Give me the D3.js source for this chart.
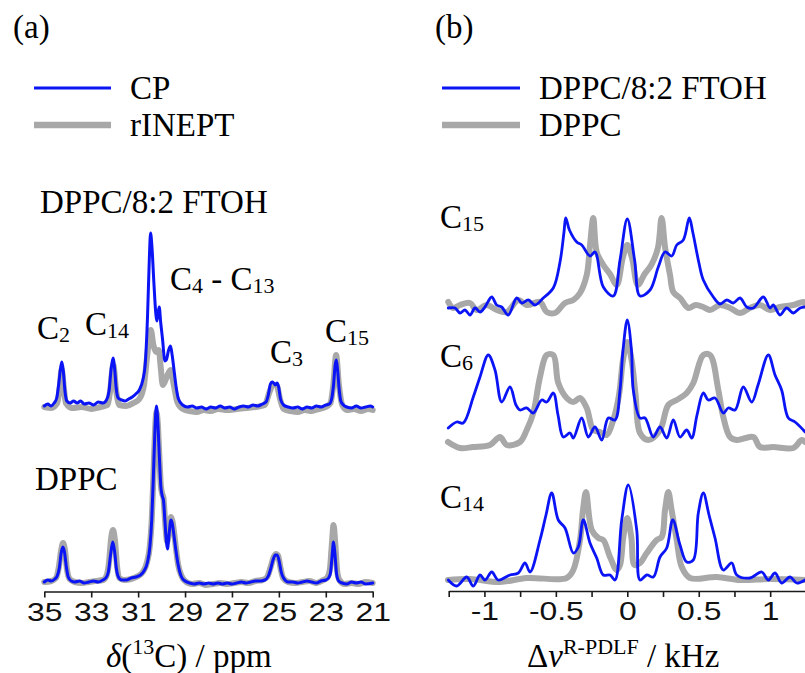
<!DOCTYPE html>
<html>
<head>
<meta charset="utf-8">
<script src="https://cdn.jsdelivr.net/npm/d3@7"></script>
<style>
  body { margin: 0; background: #fff; }
  svg { display: block; }
</style>
</head>
<body>
<svg id="chart" width="805" height="673"></svg>
<script>
// ---- data ----
// panel (a): [ppm, intensity] ; intensity in arbitrary units
const cpMix = [[35.0,1],[34.85,3],[34.72,1],[34.58,4],[34.47,9],[34.38,24],[34.3,40],[34.25,45],[34.19,36],[34.12,16],[34.04,6],[33.9,4],[33.75,6],[33.6,4],[33.45,6],[33.3,3],[33.1,4],[32.9,2],[32.7,5],[32.5,4],[32.35,7],[32.24,16],[32.15,38],[32.07,49],[32.0,38],[31.94,20],[31.85,9],[31.7,7],[31.55,6],[31.4,8],[31.25,10],[31.1,13],[30.95,17],[30.8,27],[30.7,42],[30.6,90],[30.52,150],[30.47,174],[30.41,160],[30.33,125],[30.24,92],[30.2,86],[30.15,94],[30.1,100],[30.04,85],[29.96,68],[29.86,46],[29.8,47],[29.7,57],[29.62,61],[29.55,52],[29.46,35],[29.38,20],[29.28,8],[29.1,2],[28.9,0],[28.7,1],[28.5,-1],[28.3,0],[28.1,-2],[27.9,0],[27.7,-1],[27.5,1],[27.3,-1],[27.1,0],[26.9,-2],[26.7,0],[26.5,1],[26.3,0],[26.1,2],[25.9,1],[25.7,3],[25.55,5],[25.45,12],[25.36,23],[25.29,25],[25.22,24],[25.15,22],[25.08,24],[25.01,20],[24.93,8],[24.8,2],[24.6,0],[24.4,-1],[24.2,0],[24.0,-2],[23.8,0],[23.6,-1],[23.4,1],[23.2,0],[23.0,2],[22.85,3],[22.75,8],[22.67,22],[22.6,42],[22.55,47],[22.5,38],[22.43,18],[22.36,6],[22.25,2],[22.1,0],[21.9,-1],[21.7,1],[21.5,-1],[21.3,0],[21.1,1],[21.0,0]];
const ineptMix = [[35.0,0],[34.7,-1],[34.45,4],[34.34,20],[34.26,38],[34.17,20],[34.08,4],[33.8,-1],[33.4,0],[33.0,-2],[32.6,0],[32.3,2],[32.2,15],[32.06,42],[31.93,15],[31.8,2],[31.5,1],[31.2,4],[30.95,8],[30.75,22],[30.62,50],[30.46,77],[30.35,62],[30.22,55],[30.12,57],[30.03,38],[29.95,22],[29.78,30],[29.62,37],[29.48,22],[29.33,5],[29.1,-2],[28.8,-4],[28.5,-5],[28.2,-3],[27.9,-4],[27.6,-2],[27.2,-3],[26.8,-2],[26.4,-1],[26.0,0],[25.6,2],[25.4,15],[25.25,22],[25.1,22],[24.95,8],[24.8,-2],[24.5,-4],[24.2,-5],[23.9,-3],[23.6,-4],[23.3,-2],[23.0,0],[22.8,4],[22.68,22],[22.56,52],[22.44,22],[22.3,2],[22.1,-3],[21.8,-2],[21.5,-4],[21.2,-2],[21.0,-3]];
const cpDppc = [[35.0,0],[34.85,2],[34.7,1],[34.55,3],[34.45,6],[34.36,14],[34.28,29],[34.21,35],[34.14,30],[34.06,15],[33.98,5],[33.85,1],[33.7,0],[33.5,1],[33.3,-1],[33.1,0],[32.9,1],[32.7,0],[32.5,2],[32.38,4],[32.27,10],[32.17,28],[32.08,40],[32.0,30],[31.93,14],[31.84,5],[31.7,2],[31.5,2],[31.3,4],[31.1,5],[30.9,7],[30.75,11],[30.6,20],[30.5,35],[30.42,62],[30.35,105],[30.29,148],[30.22,176],[30.16,160],[30.1,128],[30.03,95],[29.97,86],[29.92,82],[29.86,62],[29.8,42],[29.75,33],[29.68,48],[29.6,62],[29.54,58],[29.47,46],[29.38,30],[29.3,18],[29.15,5],[29.0,1],[28.8,-1],[28.6,-2],[28.4,-1],[28.2,-2],[28.0,-1],[27.8,-2],[27.6,-1],[27.4,-2],[27.2,-1],[27.0,-2],[26.8,-1],[26.6,0],[26.4,-1],[26.2,0],[26.0,1],[25.8,1],[25.6,2],[25.45,6],[25.35,13],[25.25,22],[25.15,27],[25.07,27],[24.98,20],[24.9,10],[24.8,4],[24.6,0],[24.4,0],[24.2,-1],[24.0,0],[23.8,1],[23.6,0],[23.4,-1],[23.2,1],[23.0,2],[22.88,4],[22.8,9],[22.73,26],[22.67,40],[22.61,28],[22.54,8],[22.45,1],[22.3,-1],[22.1,-2],[21.9,0],[21.7,-1],[21.5,0],[21.3,-2],[21.0,-1]];
const ineptDppc = [[35.0,0],[34.7,1],[34.5,4],[34.38,15],[34.28,32],[34.2,39],[34.12,32],[34.03,12],[33.92,3],[33.7,0],[33.4,-1],[33.1,0],[32.8,1],[32.5,2],[32.35,6],[32.24,20],[32.15,44],[32.07,52],[31.99,42],[31.9,16],[31.8,4],[31.6,2],[31.3,3],[31.0,6],[30.8,10],[30.62,20],[30.5,36],[30.42,62],[30.35,105],[30.29,145],[30.22,170],[30.16,158],[30.1,128],[30.03,96],[29.97,88],[29.92,84],[29.86,64],[29.8,46],[29.76,40],[29.68,52],[29.6,65],[29.53,60],[29.46,48],[29.38,32],[29.3,18],[29.15,6],[29.0,1],[28.7,-2],[28.4,-1],[28.1,-3],[27.8,-2],[27.5,-1],[27.2,-2],[26.9,-1],[26.6,0],[26.3,-1],[26.0,1],[25.7,2],[25.5,5],[25.35,15],[25.22,25],[25.12,28],[25.03,26],[24.93,14],[24.82,4],[24.6,0],[24.3,-1],[24.0,0],[23.7,1],[23.4,-1],[23.1,2],[22.95,4],[22.83,12],[22.74,38],[22.67,57],[22.6,40],[22.52,12],[22.42,2],[22.2,-2],[21.9,-1],[21.6,-2],[21.3,0],[21.0,-1]];

// panel (b): [kHz, intensity]
const c15Mix = [[-1.253,2],[-1.206,2],[-1.171,-3],[-1.136,0],[-1.101,-5],[-1.066,2],[-1.031,-2],[-0.996,3],[-0.949,13],[-0.914,5],[-0.879,3],[-0.833,-5],[-0.774,12],[-0.739,7],[-0.693,10],[-0.646,5],[-0.588,12],[-0.518,22],[-0.471,48],[-0.443,78],[-0.431,92],[-0.405,80],[-0.354,68],[-0.319,65],[-0.261,54],[-0.226,58],[-0.168,23],[-0.098,14],[-0.051,50],[0,91],[0.051,50],[0.089,14],[0.159,20],[0.217,43],[0.264,58],[0.311,54],[0.346,65],[0.392,70],[0.434,92],[0.458,78],[0.5,48],[0.532,30],[0.602,13],[0.649,6],[0.696,10],[0.742,7],[0.789,12],[0.836,3],[0.882,2],[0.952,13],[0.999,2],[1.022,5],[1.069,-5],[1.115,2],[1.162,-3],[1.209,2],[1.244,3]];
const c15Dppc = [[-1.253,8],[-1.218,2],[-1.171,5],[-1.101,7],[-1.054,0],[-0.984,5],[-0.914,0],[-0.844,-2],[-0.763,10],[-0.704,5],[-0.611,8],[-0.564,-2],[-0.506,-3],[-0.436,7],[-0.378,10],[-0.331,17],[-0.284,35],[-0.261,65],[-0.238,92],[-0.214,58],[-0.168,45],[-0.121,36],[-0.074,25],[-0.032,52],[0,65],[0.033,52],[0.074,25],[0.121,36],[0.168,45],[0.214,62],[0.24,92],[0.265,62],[0.299,35],[0.322,18],[0.369,12],[0.427,2],[0.479,5],[0.532,3],[0.579,0],[0.649,5],[0.719,2],[0.789,-3],[0.859,2],[0.929,5],[0.999,0],[1.069,3],[1.162,5],[1.232,8],[1.244,6]];
const c6Mix = [[-1.253,19],[-1.194,25],[-1.148,24],[-1.078,50],[-1.031,70],[-0.973,92],[-0.926,77],[-0.879,45],[-0.821,60],[-0.779,42],[-0.751,37],[-0.704,39],[-0.658,34],[-0.599,47],[-0.564,45],[-0.518,54],[-0.485,32],[-0.448,10],[-0.401,14],[-0.378,9],[-0.319,29],[-0.273,10],[-0.226,20],[-0.179,7],[-0.133,29],[-0.086,27],[-0.051,57],[-0.03,97],[0,127],[0.029,97],[0.042,57],[0.089,29],[0.124,29],[0.182,10],[0.229,20],[0.276,9],[0.322,27],[0.369,10],[0.416,17],[0.451,9],[0.488,32],[0.532,54],[0.567,47],[0.614,49],[0.672,34],[0.707,39],[0.754,37],[0.812,60],[0.871,45],[0.915,62],[0.987,92],[1.034,72],[1.08,57],[1.127,29],[1.174,25],[1.232,17],[1.244,15]];
const c6Dppc = [[-1.255,5],[-1.171,-1],[-1.08,0],[-0.961,2],[-0.891,10],[-0.844,2],[-0.751,5],[-0.704,17],[-0.658,34],[-0.611,70],[-0.564,92],[-0.518,92],[-0.483,64],[-0.424,49],[-0.378,45],[-0.331,49],[-0.284,39],[-0.238,17],[-0.191,15],[-0.144,12],[-0.098,27],[-0.058,52],[-0.03,87],[0,105],[0.03,87],[0.058,52],[0.089,14],[0.147,7],[0.229,17],[0.287,42],[0.346,47],[0.416,54],[0.462,64],[0.532,92],[0.579,92],[0.637,57],[0.672,30],[0.719,10],[0.766,7],[0.882,10],[0.929,0],[1.022,0],[1.162,-1],[1.22,7],[1.244,5]];
const c14Mix = [[-1.253,0],[-1.194,-6],[-1.124,3],[-1.078,-6],[-1.031,5],[-0.996,0],[-0.949,8],[-0.903,0],[-0.821,5],[-0.763,7],[-0.716,17],[-0.681,8],[-0.611,40],[-0.569,65],[-0.529,87],[-0.483,60],[-0.436,52],[-0.378,27],[-0.343,33],[-0.308,60],[-0.261,37],[-0.214,22],[-0.168,5],[-0.121,5],[-0.086,0],[-0.039,60],[0.007,95],[0.066,50],[0.089,0],[0.136,5],[0.182,3],[0.229,23],[0.276,32],[0.318,60],[0.369,35],[0.416,18],[0.462,20],[0.497,67],[0.532,87],[0.572,65],[0.614,42],[0.672,10],[0.731,17],[0.766,5],[0.859,2],[0.941,8],[0.987,0],[1.034,7],[1.08,-3],[1.139,3],[1.185,-3],[1.244,0]];
const c14Dppc = [[-1.255,0],[-1.1,1],[-0.891,-2],[-0.704,2],[-0.424,2],[-0.378,10],[-0.331,40],[-0.31,70],[-0.289,88],[-0.249,50],[-0.203,42],[-0.168,40],[-0.121,23],[-0.074,10],[-0.051,15],[-0.028,43],[0,62],[0.028,43],[0.051,15],[0.089,17],[0.136,27],[0.206,40],[0.241,43],[0.264,70],[0.287,88],[0.31,70],[0.346,40],[0.381,13],[0.439,2],[0.626,3],[0.789,0],[1.0,1],[1.244,0]];

const ppmTicks = [35, 33, 31, 29, 27, 25, 23, 21];
const khzTicks = [-1.25, -1, -0.75, -0.5, -0.25, 0, 0.25, 0.5, 0.75, 1, 1.25];
const khzLabels = [-1, -0.5, 0, 0.5, 1];

const BLUE = "#0a14f5", GRAY = "#a8a8a8";
const SERIF = "'Liberation Serif', 'Times New Roman', serif";
const SANS = "'Liberation Sans', Arial, sans-serif";

const svg = d3.select("#chart");

// scales
const xA = d3.scaleLinear().domain([35, 21]).range([44.3, 372.7]);
const yTop = d3.scaleLinear().domain([0, 100]).range([407, 307]);
const yBot = d3.scaleLinear().domain([0, 100]).range([582, 482]);

const xB = d3.scaleLinear().domain([-1.25, 1.25]).range([448.7, 805.9]);
const yC15 = d3.scaleLinear().domain([0, 100]).range([310, 210]);
const yC6 = d3.scaleLinear().domain([0, 100]).range([447, 347]);
const yC14 = d3.scaleLinear().domain([0, 100]).range([580, 480]);

function trace(data, x, y, color, w, curve) {
  const line = d3.line().x(d => x(d[0])).y(d => y(d[1])).curve(curve);
  svg.append("path").datum(data)
    .attr("d", line)
    .attr("fill", "none")
    .attr("stroke", color)
    .attr("stroke-width", w)
    .attr("stroke-linejoin", "round")
    .attr("stroke-linecap", "round");
}

const sharp = d3.curveMonotoneX;
const smooth = d3.curveCatmullRom.alpha(0.5);

// gray first, blue on top
trace(ineptMix, xA, yTop, GRAY, 6, sharp);
trace(cpMix, xA, yTop, BLUE, 3, sharp);
trace(ineptDppc, xA, yBot, GRAY, 6, sharp);
trace(cpDppc, xA, yBot, BLUE, 3, sharp);

trace(c15Dppc, xB, yC15, GRAY, 6, smooth);
trace(c15Mix, xB, yC15, BLUE, 2.8, smooth);
trace(c6Dppc, xB, yC6, GRAY, 6, smooth);
trace(c6Mix, xB, yC6, BLUE, 2.8, smooth);
trace(c14Dppc, xB, yC14, GRAY, 6, smooth);
trace(c14Mix, xB, yC14, BLUE, 2.8, smooth);

// axes
function styleAxis(g) {
  g.select(".domain").attr("stroke", "#1a1a1a").attr("stroke-width", 1.6);
  g.selectAll(".tick line").attr("stroke", "#1a1a1a").attr("stroke-width", 1.6);
  g.selectAll(".tick text")
    .attr("font-family", SANS).attr("font-size", 25.5).attr("fill", "#111")
    .attr("y", 0).attr("dy", 0)
    .attr("transform", "translate(0,29) scale(1.25,1)");
}

const axA = svg.append("g").attr("transform", "translate(0,591.5)")
  .call(d3.axisBottom(xA).tickValues(ppmTicks).tickSize(6).tickSizeOuter(0).tickFormat(d => String(d)));
styleAxis(axA);

const axB = svg.append("g").attr("transform", "translate(0,591)")
  .call(d3.axisBottom(xB).tickValues(khzTicks).tickSize(6).tickSizeOuter(0)
    .tickFormat(d => khzLabels.includes(d) ? String(d) : ""));
styleAxis(axB);

// text helpers
function label(x, y, parts, size) {
  const t = svg.append("text").attr("x", x).attr("y", y)
    .attr("font-family", SERIF).attr("font-size", size || 33).attr("fill", "#000");
  let shift = 0;
  parts.forEach(p => {
    const s = t.append("tspan").text(p.t);
    const target = p.sub ? 3 : p.sup ? -13 : 0;
    if (target !== shift) { s.attr("dy", target - shift); shift = target; }
    if (p.sub || p.sup) s.attr("font-size", 22);
    if (p.i) s.attr("font-style", "italic");
  });
  return t;
}

label(13, 38, [{t: "(a)"}]);
label(435, 38, [{t: "(b)"}]);

// legends
function legendRow(x1, x2, y, color, w, text) {
  svg.append("line").attr("x1", x1).attr("x2", x2).attr("y1", y).attr("y2", y)
    .attr("stroke", color).attr("stroke-width", w);
  label(x2 + 19, y + 10.5, [{t: text}]);
}
legendRow(34, 111, 88, BLUE, 3, "CP");
legendRow(34, 111, 125, GRAY, 6.5, "rINEPT");
legendRow(442, 520, 88, BLUE, 3, "DPPC/8:2 FTOH");
legendRow(442, 520, 125, GRAY, 6.5, "DPPC");

// panel (a) annotations
label(40, 213, [{t: "DPPC/8:2 FTOH"}]);
label(35, 490, [{t: "DPPC"}]);
label(37, 339, [{t: "C"}, {t: "2", sub: true}]);
label(85, 335, [{t: "C"}, {t: "14", sub: true}]);
label(170, 290, [{t: "C"}, {t: "4", sub: true}, {t: " - C"}, {t: "13", sub: true}]);
label(270, 363, [{t: "C"}, {t: "3", sub: true}]);
label(325, 342, [{t: "C"}, {t: "15", sub: true}]);

// panel (b) annotations
label(440, 228, [{t: "C"}, {t: "15", sub: true}]);
label(440, 367, [{t: "C"}, {t: "6", sub: true}]);
label(440, 508, [{t: "C"}, {t: "14", sub: true}]);

// axis titles
label(106, 667, [{t: "δ", i: true}, {t: "("}, {t: "13", sup: true}, {t: "C) / ppm"}]);
label(527, 667, [{t: "Δ"}, {t: "ν", i: true}, {t: "R-PDLF", sup: true}, {t: " / kHz"}]);
</script>
</body>
</html>
